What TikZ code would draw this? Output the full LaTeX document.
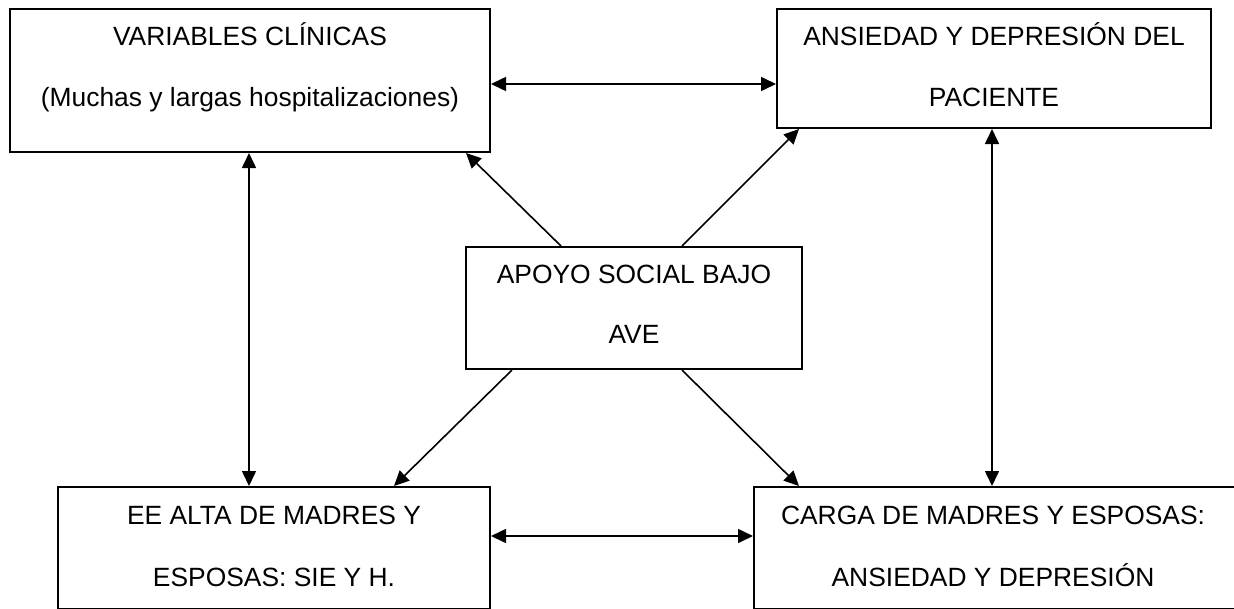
\documentclass[tikz,border=0pt]{standalone}
\usepackage{fontspec}
\setmainfont{Liberation Sans}
\usetikzlibrary{arrows.meta,calc}
\begin{document}
\begin{tikzpicture}[x=1pt,y=-1pt,
 box/.style={draw, line width=2pt, rectangle, inner sep=0pt},
 txt/.style={anchor=base, font=\fontsize{26.4}{30}\selectfont, inner sep=0pt},
 conn/.style={line width=1.6pt, -{Triangle[length=15pt,width=14pt]}},
 dconn/.style={line width=1.6pt, {Triangle[length=15pt,width=14pt]}-{Triangle[length=15pt,width=14pt]}}]
\useasboundingbox (0,0) rectangle (1234,608);
% boxes
\node[box, minimum width=480pt, minimum height=143pt] (tl) at (250,80.5) {};
\node[box, minimum width=434pt, minimum height=119pt] (tr) at (994,68.5) {};
\node[box, minimum width=336pt, minimum height=122pt] (c) at (634,308) {};
\node[box, minimum width=432pt, minimum height=122pt] (bl) at (274,548) {};
\node[box, minimum width=482pt, minimum height=122pt] (br) at (995,548) {};
% texts
\node[txt] (tl1) at (250,45) {VARIABLES CLÍNICAS};
\node[txt] (tl2) at (250,106) {(Muchas y largas hospitalizaciones)};
\node[txt] (tr1) at (994,45) {ANSIEDAD Y DEPRESIÓN DEL};
\node[txt] (tr2) at (994,106) {PACIENTE};
\node[txt] (c1) at (634,283) {APOYO SOCIAL BAJO};
\node[txt] (c2) at (634,343) {AVE};
\node[txt] (bl1) at (274,524) {EE ALTA DE MADRES Y};
\node[txt] (bl2) at (274,586) {ESPOSAS: SIE Y H.};
\node[txt] (br1) at (993,524) {CARGA DE MADRES Y ESPOSAS:};
\node[txt] (br2) at (993,586) {ANSIEDAD Y DEPRESIÓN};
% double arrows
\draw[dconn] ($(tl.north east)+(0,76)$) -- ($(tr.north west)+(0,76)$);
\draw[dconn] ($(tl.south west)+(240,0)$) -- ($(bl.north west)+(192,0)$);
\draw[dconn] ($(tr.south west)+(216,0)$) -- ($(br.north west)+(239,0)$);
\draw[dconn] ($(bl.north east)+(0,50)$) -- ($(br.north west)+(0,50)$);
% from centre
\draw[conn] ($(c.north west)+(96,0)$) -- ($(tl.south west)+(457,0)$);
\draw[conn] ($(c.north west)+(217,0)$) -- ($(tr.south west)+(23,0)$);
\draw[conn] ($(c.south west)+(47,0)$) -- ($(bl.north west)+(337,0)$);
\draw[conn] ($(c.south west)+(217,0)$) -- ($(br.north west)+(46,0)$);
\end{tikzpicture}
\end{document}
